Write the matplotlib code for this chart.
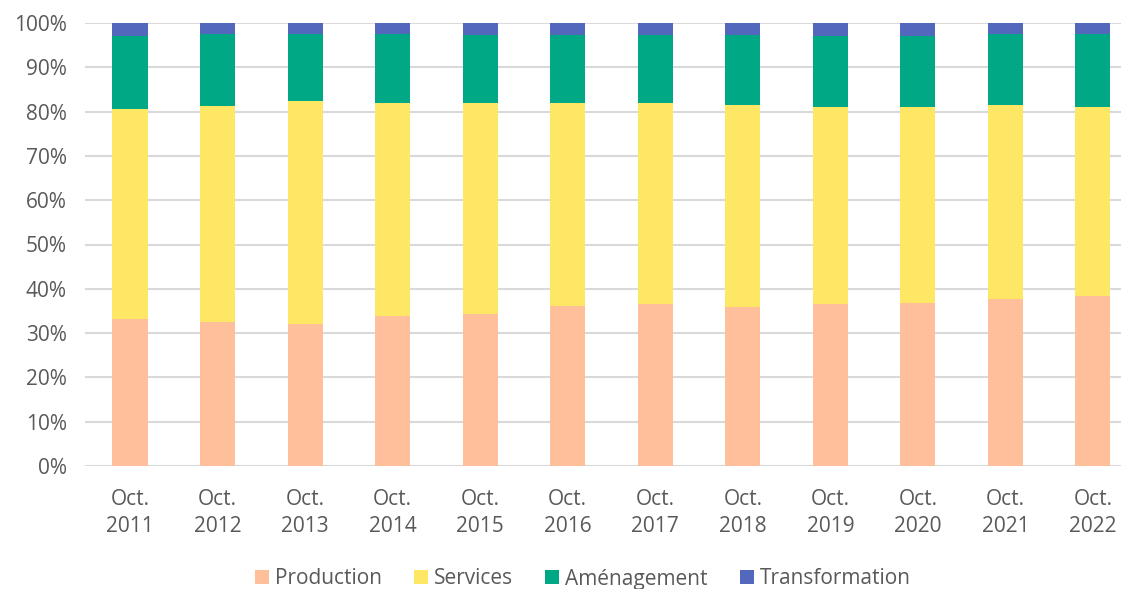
import numpy as np
import matplotlib.pyplot as plt
from matplotlib.ticker import PercentFormatter

years = ["2011", "2012", "2013", "2014", "2015", "2016",
         "2017", "2018", "2019", "2020", "2021", "2022"]
labels = ["Oct.\n" + y for y in years]

# shares in %
production = [33.2, 32.6, 32.0, 33.8, 34.4, 36.2, 36.6, 36.0, 36.6, 36.9, 37.7, 38.3]
services_top = [80.5, 81.3, 82.3, 82.0, 81.9, 81.9, 82.0, 81.6, 81.1, 81.1, 81.4, 81.1]
amenag_top = [97.15, 97.5, 97.5, 97.5, 97.4, 97.4, 97.4, 97.4, 97.15, 97.15, 97.5, 97.5]

production = np.array(production)
services = np.array(services_top) - production
amenagement = np.array(amenag_top) - np.array(services_top)
transformation = 100 - np.array(amenag_top)

plt.rcParams['font.family'] = ['Open Sans', 'DejaVu Sans']
grey = '#595959'

fig = plt.figure(figsize=(11.21, 5.89), dpi=100)
ax = fig.add_axes([85 / 1121, 1 - 466 / 589, 1 - 85 / 1121, (466 - 23) / 589])

x = np.arange(len(years))
w = 0.4
ax.bar(x, production, width=w, color='#FFBF9B', label='Production', zorder=2)
ax.bar(x, services, bottom=production, width=w, color='#FFE766', label='Services', zorder=2)
ax.bar(x, amenagement, bottom=production + services, width=w, color='#00A886',
       label='Aménagement', zorder=2)
ax.bar(x, transformation, bottom=production + services + amenagement, width=w,
       color='#5368BD', label='Transformation', zorder=2)

ax.set_ylim(0, 100)
ax.set_xlim(-0.514, 11.32)
ax.set_yticks(np.arange(0, 101, 10))
ax.yaxis.set_major_formatter(PercentFormatter(decimals=0))
ax.set_xticks(x)
ax.set_xticklabels(labels, linespacing=1.37)
ax.grid(axis='y', color='#D9D9D9', linewidth=1.5, zorder=0)
for s in ax.spines.values():
    s.set_visible(False)
ax.tick_params(length=0, labelsize=15, colors=grey)
ax.tick_params(axis='y', pad=13)
ax.tick_params(axis='x', pad=16.5)

fig.legend(*ax.get_legend_handles_labels(), loc='center',
           bbox_to_anchor=(583 / 1121, 1 - 579 / 589), ncol=4,
           frameon=False, fontsize=15, labelcolor=grey, handlelength=0.65,
           handleheight=0.65, handletextpad=0.3, columnspacing=1.55)

fig.savefig('out.png', dpi=100)
